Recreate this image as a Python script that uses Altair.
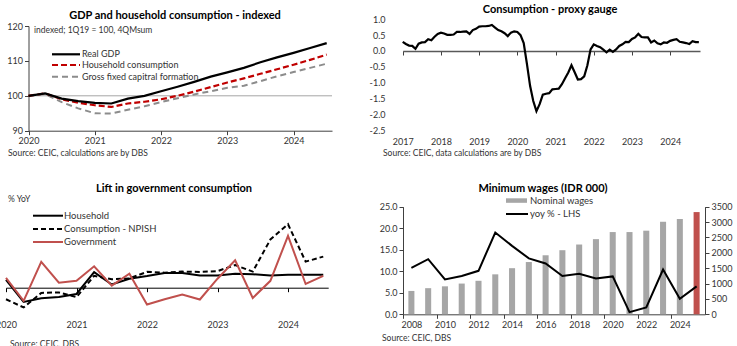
import altair as alt
import pandas as pd

FONT = "Lato"
TXT = "#333333"
AX = "#404040"

# ---------------- data ----------------
# Top-left: GDP and household consumption - indexed (quarterly)
tl_quarters = ["2020Q1", "2020Q2", "2020Q3", "2020Q4", "2021Q1", "2021Q2", "2021Q3", "2021Q4",
               "2022Q1", "2022Q2", "2022Q3", "2022Q4", "2023Q1", "2023Q2", "2023Q3", "2023Q4",
               "2024Q1", "2024Q2", "2024Q3"]
tl_gdp = [100.0, 100.7, 99.2, 98.5, 98.0, 97.8, 99.2, 100.0, 101.3, 102.6, 104.0, 105.5,
          106.7, 108.0, 109.6, 111.0, 112.3, 113.7, 115.1]
tl_household = [100.0, 100.7, 99.0, 98.0, 97.3, 96.8, 97.8, 98.3, 99.0, 100.0, 101.2, 102.5,
                103.8, 105.0, 106.3, 107.6, 108.9, 110.3, 111.8]
tl_gfcf = [100.0, 100.5, 98.2, 96.4, 95.0, 94.9, 96.0, 97.0, 98.2, 99.3, 100.4, 101.3,
           102.3, 102.9, 104.2, 105.6, 106.8, 108.0, 109.2]

# Top-right: Consumption - proxy gauge (monthly, from Jan 2017)
tr_start = "2017-01-01"
tr_values = [0.29, 0.22, 0.17, 0.16, 0.07, 0.23, 0.27, 0.28, 0.37, 0.34, 0.45, 0.54,
             0.58, 0.55, 0.51, 0.51, 0.52, 0.60, 0.60, 0.61, 0.62, 0.54, 0.66, 0.70,
             0.77, 0.78, 0.78, 0.79, 0.82, 0.74, 0.66, 0.62, 0.56, 0.47, 0.58, 0.62,
             0.60, 0.50, 0.25, -0.40, -1.10, -1.58, -1.90, -1.68, -1.38, -1.35, -1.33, -1.21,
             -1.20, -1.19, -1.05, -0.86, -0.68, -0.45, -0.67, -0.90, -0.89, -0.80, -0.45, 0.05,
             0.21, 0.16, 0.12, 0.04, -0.04, 0.04, -0.03, 0.05, 0.16, 0.21, 0.29, 0.28,
             0.38, 0.43, 0.54, 0.44, 0.43, 0.43, 0.27, 0.33, 0.24, 0.21, 0.27, 0.26,
             0.32, 0.35, 0.37, 0.29, 0.27, 0.25, 0.22, 0.31, 0.28, 0.28]

# Bottom-left: Lift in government consumption (% YoY, quarterly)
bl_quarters = tl_quarters
bl_household = [3.0, -5.4, -4.0, -3.5, -2.4, 5.9, 1.2, 3.4, 4.4, 5.6, 5.6, 4.6,
                4.6, 5.3, 5.1, 4.6, 4.9, 4.9, 4.9]
bl_npish = [-4.4, -7.5, -2.0, -1.8, -3.6, 4.5, 3.2, 3.5, 6.0, 5.7, 6.1, 6.0,
            6.3, 8.6, 6.1, 18.3, 24.1, 9.9, 11.8]
bl_government = [3.7, -5.0, 9.8, 1.9, 2.6, 8.1, 0.8, 5.3, -6.4, -4.4, -2.6, -4.5,
                 3.4, 10.4, -3.9, 2.6, 19.7, 1.4, 4.5]

# Bottom-right: Minimum wages (IDR 000)
br_years = list(range(2008, 2026))
br_wages = [760, 850, 910, 1000, 1090, 1300, 1500, 1700, 1920, 2085, 2270, 2445,
            2675, 2675, 2720, 3010, 3100, 3325]
br_yoy = [10.8, 12.8, 8.1, 8.9, 10.1, 19.0, 15.9, 13.0, 11.8, 8.9, 9.4, 8.3,
          8.8, 0.5, 1.6, 10.4, 3.6, 6.5]

# ---------------- helpers ----------------
W, H = 737, 346
ONE = pd.DataFrame({"k": [0]})


def qpos(q):
    return int(q[:4]) + (int(q[-1]) - 1) / 4


def text(s, x, y, size=9, bold=False, align="left", color=TXT):
    return alt.Chart(ONE).mark_text(
        text=s, font=FONT, fontSize=size, fontWeight="bold" if bold else "normal",
        align=align, baseline="middle", color=color
    ).encode(x=alt.value(x), y=alt.value(y))


def swatch(x1, x2, y, color, width=2, dash=None):
    kw = dict(color=color, strokeWidth=width)
    if dash:
        kw["strokeDash"] = dash
    return alt.Chart(ONE).mark_rule(**kw).encode(x=alt.value(x1), x2=alt.value(x2), y=alt.value(y))


def axis(orient, offset, **kw):
    base = dict(orient=orient, offset=offset, title=None, grid=False,
                labelFont=FONT, labelFontSize=9, labelColor=TXT,
                domainColor=AX, tickColor=AX, tickSize=4, labelPadding=2,
                labelFlush=False, labelOverlap=False)
    base.update(kw)
    return alt.Axis(**base)


layers = []

# ================= Top-left =================
tl_df = pd.DataFrame({"x": [qpos(q) for q in tl_quarters], "gdp": tl_gdp,
                      "hh": tl_household, "gfcf": tl_gfcf})
tl_x = alt.Scale(domain=[2020, 2024.58], range=[28.5, 332], nice=False, zero=False)
tl_y = alt.Scale(domain=[90, 120], range=[130.7, 26], nice=False, zero=False)

layers.append(alt.Chart(pd.DataFrame({"v": [100]})).mark_rule(color="#A6A6A6", strokeWidth=1)
              .encode(y=alt.Y("v:Q", scale=tl_y, axis=None), x=alt.value(28.5), x2=alt.value(332)))
layers.append(alt.Chart(tl_df).mark_line(color="#8C8C8C", strokeWidth=2, strokeDash=[6, 4])
              .encode(x=alt.X("x:Q", scale=tl_x, axis=None), y=alt.Y("gfcf:Q", scale=tl_y, axis=None)))
layers.append(alt.Chart(tl_df).mark_line(color="#C00000", strokeWidth=2.2, strokeDash=[6, 3])
              .encode(x=alt.X("x:Q", scale=tl_x, axis=None), y=alt.Y("hh:Q", scale=tl_y, axis=None)))
layers.append(alt.Chart(tl_df).mark_line(color="black", strokeWidth=2.2)
              .encode(x=alt.X("x:Q", scale=tl_x,
                              axis=axis("bottom", 130.7 - H, values=[2020, 2021, 2022, 2023, 2024], format="d")),
                      y=alt.Y("gdp:Q", scale=tl_y,
                              axis=axis("left", -28.5, values=[90, 100, 110, 120], format="d"))))
layers += [
    text("GDP and household consumption - indexed", 175, 15.5, size=11, bold=True, align="center", color="black"),
    text("indexed; 1Q19 = 100, 4QMsum", 34, 29.5, size=8.5),
    swatch(52, 80, 54.3, "black", 2.2),
    text("Real GDP", 82, 54.3),
    swatch(52, 80, 65, "#C00000", 2.2, [6, 3]),
    text("Household consumption", 82, 65),
    swatch(52, 80, 76.7, "#8C8C8C", 2, [6, 4]),
    text("Gross fixed capitral formation", 82, 76.7),
    text("Source: CEIC, calculations are by DBS", 8, 152.5, size=8.5),
]

# ================= Top-right =================
tr_dates = pd.date_range(tr_start, periods=len(tr_values), freq="MS")
tr_df = pd.DataFrame({"x": tr_dates.year + (tr_dates.month - 1) / 12, "v": tr_values})
tr_x = alt.Scale(domain=[2017, 2024.78], range=[402.7, 700], nice=False, zero=False)
tr_y = alt.Scale(domain=[-2.5, 1.0], range=[130.2, 19.3], nice=False, zero=False)
layers.append(alt.Chart(tr_df).mark_line(color="black", strokeWidth=2.2)
              .encode(x=alt.X("x:Q", scale=tr_x,
                              axis=axis("bottom", 51 - H, values=list(range(2017, 2025)), format="d",
                                        labelPadding=82, domainColor="#595959", domainWidth=1.5)),
                      y=alt.Y("v:Q", scale=tr_y,
                              axis=axis("left", -388, values=[-2.5, -2.0, -1.5, -1.0, -0.5, 0.0, 0.5, 1.0],
                                        format=".1f", labelExpr="replace(datum.label, '\u2212', '-')",
                                        ticks=False, tickSize=0, domain=False, labelPadding=3))))
layers += [
    text("Consumption - proxy gauge", 550, 9.5, size=11, bold=True, align="center", color="black"),
    text("Source: CEIC, data calculations are by DBS", 383, 153, size=8.5),
]

# ================= Bottom-left =================
bl_df = pd.DataFrame({"x": [qpos(q) for q in bl_quarters], "hh": bl_household,
                      "np": bl_npish, "gov": bl_government})
bl_x = alt.Scale(domain=[2020, 2024.57], range=[6, 328.2], nice=False, zero=False)
bl_y = alt.Scale(domain=[-10, 30], range=[314.0, 208.7], nice=False, zero=False)
layers.append(alt.Chart(bl_df).mark_line(color="black", strokeWidth=2)
              .encode(x=alt.X("x:Q", scale=bl_x,
                              axis=axis("bottom", 287.7 - H, values=[2020, 2021, 2022, 2023, 2024], format="d",
                                        labelPadding=29, domainColor="black", tickColor="black")),
                      y=alt.Y("hh:Q", scale=bl_y, axis=None)))
layers.append(alt.Chart(bl_df).mark_line(color="black", strokeWidth=2, strokeDash=[5, 3])
              .encode(x=alt.X("x:Q", scale=bl_x, axis=None), y=alt.Y("np:Q", scale=bl_y, axis=None)))
layers.append(alt.Chart(bl_df).mark_line(color="#C0504D", strokeWidth=2)
              .encode(x=alt.X("x:Q", scale=bl_x, axis=None), y=alt.Y("gov:Q", scale=bl_y, axis=None)))
layers += [
    text("Lift in government consumption", 174, 189.3, size=11, bold=True, align="center", color="black"),
    text("% YoY", 8, 198.5, size=8.5),
    swatch(33, 63, 215.7, "black", 2),
    text("Household", 64, 215.7, size=9.5),
    swatch(33, 63, 229, "black", 2, [5, 3]),
    text("Consumption - NPISH", 64, 229, size=9.5),
    swatch(33, 63, 242, "#C0504D", 2),
    text("Government", 64, 242, size=9.5),
    text("Source: CEIC, DBS", 10, 343.5, size=8.5),
]

# ================= Bottom-right =================
br_df = pd.DataFrame({"year": br_years, "wage": br_wages, "yoy": br_yoy})
br_band = alt.Scale(type="band", domain=br_years, range=[403, 705], paddingInner=0.64, paddingOuter=0.32)
br_point = alt.Scale(type="point", domain=br_years, range=[403, 705], padding=0.5)
br_yl = alt.Scale(domain=[0, 25], range=[314.3, 206.7], nice=False, zero=False)
br_yr = alt.Scale(domain=[0, 3500], range=[314.3, 206.7], nice=False, zero=False)
step = (705 - 403) / len(br_years)

layers.append(alt.Chart(br_df).mark_bar()
              .encode(x=alt.X("year:O", scale=br_band, axis=None),
                      y=alt.Y("wage:Q", scale=br_yr,
                              axis=axis("right", 705 - W, values=list(range(0, 3501, 500)), format="d")),
                      color=alt.condition(alt.datum.year == 2025, alt.value("#C0504D"), alt.value("#A6A6A6"))))
layers.append(alt.Chart(br_df).mark_line(color="black", strokeWidth=2)
              .encode(x=alt.X("year:O", scale=br_point,
                              axis=axis("bottom", 314.3 - H, values=list(range(2008, 2025, 2)),
                                        tickOffset=-step / 2, labelOffset=step / 2, labelAngle=0, labelPadding=2.5)),
                      y=alt.Y("yoy:Q", scale=br_yl,
                              axis=axis("left", -403, values=[0, 5, 10, 15, 20, 25], format=".1f"))))
layers += [
    text("Minimum wages (IDR 000)", 543, 188.7, size=11, bold=True, align="center", color="black"),
    alt.Chart(ONE).mark_rect(color="#A6A6A6").encode(
        x=alt.value(506), x2=alt.value(527), y=alt.value(198.3), y2=alt.value(202.8)),
    text("Nominal wages", 530, 200.5, size=9.5),
    swatch(506, 528, 214, "black", 2),
    text("yoy % - LHS", 530, 214, size=9.5),
    text("Source: CEIC, DBS", 382, 338, size=8.5),
]

chart = (alt.layer(*layers)
         .resolve_scale(x="independent", y="independent")
         .properties(width=W, height=H, padding=0, autosize=alt.AutoSizeParams(type="none"))
         .configure_view(stroke=None))

chart.save("out.html", embed_options={"renderer": "svg", "actions": False})
